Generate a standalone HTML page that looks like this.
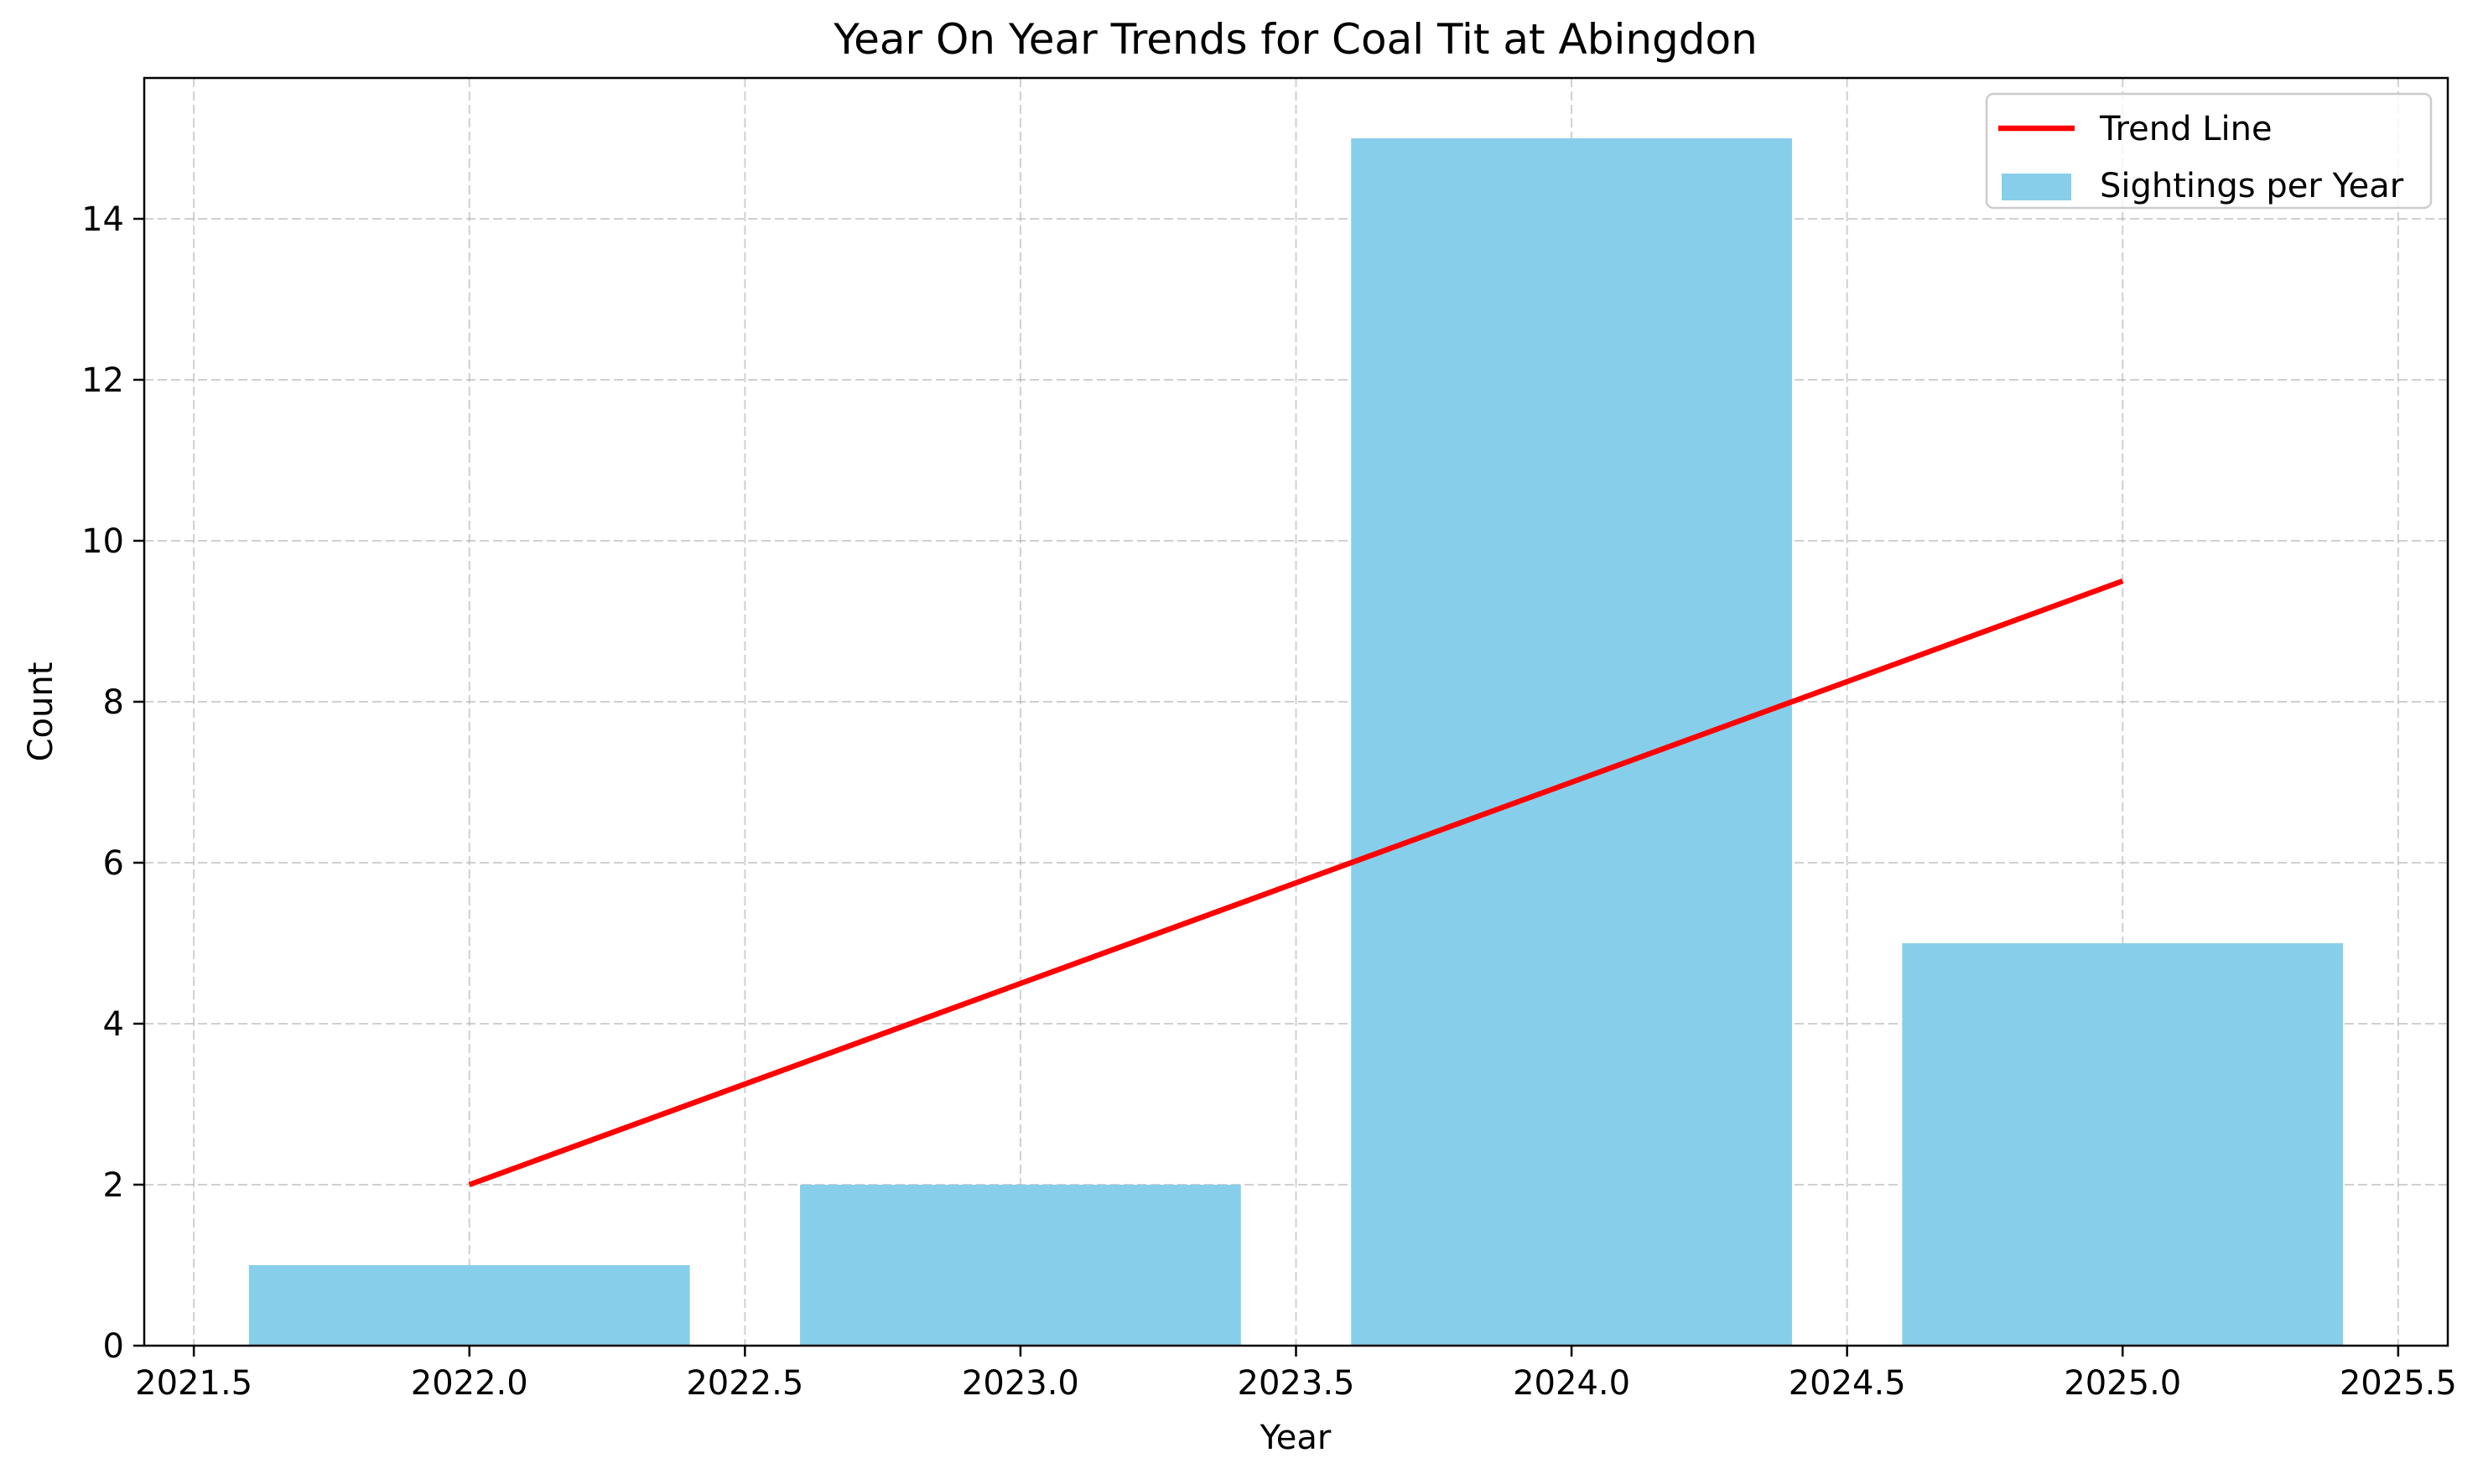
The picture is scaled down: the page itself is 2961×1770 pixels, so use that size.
<!DOCTYPE html>
<html><head><meta charset="utf-8"><style>
body{margin:0;background:#fff;}
svg text{font-family:"DejaVu Sans","Liberation Sans",sans-serif;fill:#000;}
</style></head><body>
<svg id="chart" width="2961" height="1765" xmlns="http://www.w3.org/2000/svg">
<rect width="2961" height="1765" fill="#fff"/>
<g id="grid"></g>
<g id="bars"></g>
<g id="trend"></g>
<rect x="172" y="93" width="2747" height="1512" fill="none" stroke="#000" stroke-width="2.5"/>
<g id="xticks"></g>
<g id="yticks"></g>
<text x="1545" y="64" font-size="50" text-anchor="middle">Year On Year Trends for Coal Tit at Abingdon</text>
<text x="1545" y="1728" font-size="40" text-anchor="middle">Year</text>
<text transform="translate(62,849) rotate(-90)" font-size="40" text-anchor="middle">Count</text>
<g>
<rect x="2369" y="112" width="530" height="136" rx="8" fill="#fff" fill-opacity="0.8" stroke="#ccc" stroke-width="2.5"/>
<line x1="2383" y1="153" x2="2474" y2="153" stroke="#ff0000" stroke-width="6.5"/>
<text x="2504" y="167" font-size="40">Trend Line</text>
<rect x="2387" y="207" width="83" height="32" fill="#87ceeb"/>
<text x="2504" y="227" font-size="40" dy="8">Sightings per Year</text>
</g>
</svg>
<script>
const years=[2022,2023,2024,2025];
const counts=[1,2,15,5];
const trendValues=[2,4.5,7,9.5];
const xTicks=[2021.5,2022.0,2022.5,2023.0,2023.5,2024.0,2024.5,2025.0,2025.5];
const yTicks=[0,2,4,6,8,10,12,14];
const NS="http://www.w3.org/2000/svg";
const X0=172,X1=2919,Y0=1605,Y1=93;
const xmin=2021.41,xmax=2025.59,ymax=15.75;
function sx(v){return X0+(v-xmin)/(xmax-xmin)*(X1-X0);}
function sy(v){return Y0-(v/ymax)*(Y0-Y1);}
function mk(t,a,p){const e=document.createElementNS(NS,t);for(const k in a)e.setAttribute(k,a[k]);p.appendChild(e);return e;}
const grid=document.getElementById('grid'),bars=document.getElementById('bars'),tr=document.getElementById('trend'),xt=document.getElementById('xticks'),yt=document.getElementById('yticks');
xTicks.forEach(v=>{const x=sx(v);
 const g=mk('line',{x1:x,x2:x,y1:Y1,y2:Y0,stroke:'#b0b0b0','stroke-opacity':0.6,'stroke-width':2,'stroke-dasharray':'11,5'},grid);
 
 
 const t=mk('line',{x1:x,x2:x,y1:Y0,y2:Y0+13,stroke:'#000','stroke-width':2.5},xt);
 
 
 const l=mk('text',{x:x,y:Y0+58,'font-size':40,'text-anchor':'middle'},xt);l.textContent=v.toFixed(1);
 
 
});
yTicks.forEach(v=>{const y=sy(v);
 const g=mk('line',{x1:X0,x2:X1,y1:y,y2:y,stroke:'#b0b0b0','stroke-opacity':0.6,'stroke-width':2,'stroke-dasharray':'11,5'},grid);
 
 
 const t=mk('line',{x1:X0-13,x2:X0,y1:y,y2:y,stroke:'#000','stroke-width':2.5},yt);
 
 
 const l=mk('text',{x:X0-24,y:y+14,'font-size':40,'text-anchor':'end'},yt);l.textContent=v;
 
 
});
years.forEach((yr,i)=>{const xa=sx(yr-0.4),xb=sx(yr+0.4),y=sy(counts[i]);
 const r=mk('rect',{x:xa,y:y,width:xb-xa,height:Y0-y,fill:'#87ceeb'},bars);
 
 
});
const pl=mk('polyline',{points:years.map((yr,i)=>sx(yr)+','+sy(trendValues[i])).join(' '),fill:'none',stroke:'#ff0000','stroke-width':6.5},tr);


</script>
</body></html>
